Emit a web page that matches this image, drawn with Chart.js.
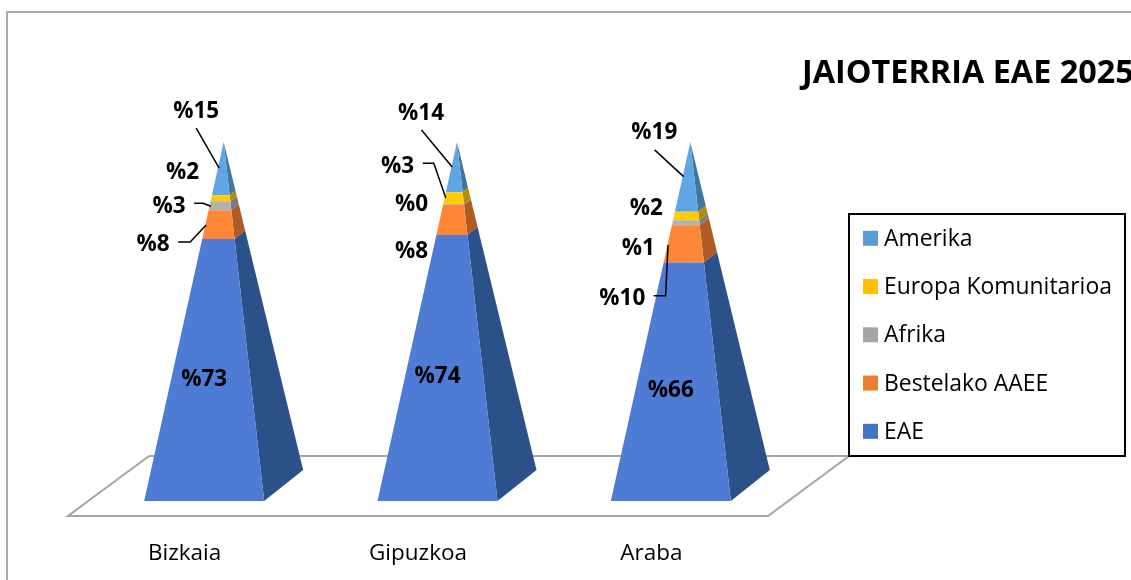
<!DOCTYPE html>
<html>
<head>
<meta charset="utf-8">
<title>JAIOTERRIA EAE 2025</title>
<script src="https://cdn.jsdelivr.net/npm/chart.js@4"></script>
<style>
  body { margin: 0; background: #fff; }
  #wrap { width: 1131px; height: 580px; }
</style>
</head>
<body>
<div id="wrap"><canvas id="chart"></canvas></div>
<script>
const chartTitle = "JAIOTERRIA EAE 2025";
const categories = ["Bizkaia", "Gipuzkoa", "Araba"];

// percentages, bottom of the pyramid first
const eae = [73, 74.1, 66.4];
const bestelako = [8, 8.4, 10.4];
const afrika = [2.5, 0.2, 1.4];
const europa = [1.7, 3.3, 2.4];
const amerika = [14.8, 14, 19.4];

const seriesNames = ["EAE", "Bestelako AAEE", "Afrika", "Europa Komunitarioa", "Amerika"];
const legendColors = ["#4472C4", "#ED7D31", "#A5A5A5", "#FFC000", "#5B9BD5"];
const frontColors = ["#4E7CD5", "#FF8636", "#B2B2B2", "#FFCC08", "#60A6E5"];
const sideColors = ["#2C5189", "#AD5C24", "#7C7C7C", "#B38E05", "#41779F"];

// depth of the fake 3D box, in pixels
const depthX = 39;
const depthY = 31;
const floorX = 81;
const floorY = 60;

// where each label sits, relative to the middle of its slice: [series][category]
// line = optional leader line points, same origin
const labelSpots = [
  [{ dx: 0, dy: 8 }, { dx: 0, dy: 7 }, { dx: 0, dy: 7 }],
  [
    { dx: -51, dy: 18.5, line: [[-26, 17.5], [-14, 17.5], [2, 0.5]] },
    { dx: -26, dy: 30 },
    { dx: -48.5, dy: 53, line: [[-17.2, 51.7], [-5.2, 51.7], [-2.8, 1]] },
  ],
  [
    { dx: -35, dy: -1.5, line: [[-10, -2.5], [-1, -2.5], [6.7, 0.5]] },
    { dx: -26, dy: -1.5 },
    { dx: -32.5, dy: 24 },
  ],
  [
    { dx: -21.5, dy: -28 },
    { dx: -40, dy: -33.2, line: [[-14.7, -34.9], [-3.7, -34.9], [8.3, -0.2]] },
    { dx: -24.5, dy: -9.3 },
  ],
  [
    { dx: -8, dy: -58.5, line: [[-8, -40.5], [15, -0.5]] },
    { dx: -16.5, dy: -55.5, line: [[-16, -37.2], [14.7, -0.2]] },
    { dx: -16.5, dy: -46, line: [[-16.2, -26.9], [12.8, -0.2]] },
  ],
];

const allSeries = [eae, bestelako, afrika, europa, amerika];

function lerp(p, apex, t) {
  return [p[0] + (apex[0] - p[0]) * t, p[1] + (apex[1] - p[1]) * t];
}

function fillShape(ctx, points, color) {
  ctx.beginPath();
  points.forEach((p, i) => (i ? ctx.lineTo(p[0], p[1]) : ctx.moveTo(p[0], p[1])));
  ctx.closePath();
  ctx.fillStyle = color;
  ctx.fill();
}

// paper frame and the floor of the 3D box
const backdropPlugin = {
  id: "backdrop",
  beforeDatasetsDraw(chart) {
    const { ctx, chartArea } = chart;
    const y0 = chart.scales.y.getPixelForValue(0) + floorY / 4;
    ctx.save();
    ctx.strokeStyle = "#ABABAB";
    ctx.lineWidth = 2;
    ctx.beginPath();
    ctx.moveTo(7, 580);
    ctx.lineTo(7, 12);
    ctx.lineTo(1131, 12);
    ctx.stroke();
    ctx.strokeStyle = "#A5A5A5";
    ctx.beginPath();
    ctx.moveTo(chartArea.left + floorX, y0 - floorY);
    ctx.lineTo(chartArea.left, y0);
    ctx.lineTo(chartArea.right, y0);
    ctx.lineTo(chartArea.right + floorX, y0 - floorY);
    ctx.lineTo(chartArea.left + floorX, y0 - floorY);
    ctx.stroke();
    ctx.restore();
  },
};

// replaces the flat bars by slices of a pyramid, the bar elements still give the positions
const pyramidPlugin = {
  id: "pyramid",
  beforeDatasetDraw(chart, args) {
    const { ctx } = chart;
    const yScale = chart.scales.y;
    const bottom = yScale.getPixelForValue(0);
    const top = yScale.getPixelForValue(100);
    args.meta.data.forEach((bar) => {
      const x = bar.x + floorX / 4 - 0.75;
      const half = bar.width / 2;
      const apex = [x + depthX / 2, top];
      const left = [x - half, bottom];
      const right = [x + half, bottom];
      const back = [x + half + depthX, bottom - depthY];
      const t0 = (bottom - bar.base) / (bottom - top);
      const t1 = (bottom - bar.y) / (bottom - top);
      fillShape(
        ctx,
        [lerp(right, apex, t0), lerp(back, apex, t0), lerp(back, apex, t1), lerp(right, apex, t1)],
        sideColors[args.index]
      );
      fillShape(
        ctx,
        [lerp(left, apex, t0), lerp(right, apex, t0), lerp(right, apex, t1), lerp(left, apex, t1)],
        frontColors[args.index]
      );
    });
    return false;
  },
};

// title, percentage labels and the boxed legend
const textPlugin = {
  id: "texts",
  afterDatasetsDraw(chart) {
    const { ctx } = chart;
    ctx.save();
    ctx.textBaseline = "middle";

    chart.data.datasets.forEach((ds, s) => {
      chart.getDatasetMeta(s).data.forEach((bar, c) => {
        const spot = labelSpots[s][c];
        const ax = bar.x + floorX / 4 - 0.75;
        const ay = (bar.y + bar.base) / 2;
        if (spot.line) {
          ctx.strokeStyle = "#000";
          ctx.lineWidth = 1.5;
          ctx.beginPath();
          spot.line.forEach((p, i) =>
            i ? ctx.lineTo(ax + p[0], ay + p[1]) : ctx.moveTo(ax + p[0], ay + p[1])
          );
          ctx.stroke();
        }
        ctx.fillStyle = "#000";
        ctx.font = "bold 22.5px 'Open Sans'";
        ctx.textAlign = "center";
        ctx.fillText("%" + Math.round(ds.data[c]), ax + spot.dx, ay + spot.dy + 2);
      });
    });

    ctx.textAlign = "left";
    ctx.fillStyle = "#000";
    ctx.font = "bold 32.4px 'Open Sans'";
    ctx.fillText(chartTitle, 802, 74);

    ctx.fillStyle = "#fff";
    ctx.fillRect(849, 214, 276, 242);
    ctx.strokeStyle = "#000";
    ctx.lineWidth = 2;
    ctx.strokeRect(849, 214, 276, 242);
    ctx.font = "22.9px 'Open Sans'";
    [4, 3, 2, 1, 0].forEach((s, row) => {
      const yy = 238.3 + row * 48.25;
      ctx.fillStyle = legendColors[s];
      ctx.fillRect(863, yy - 7.5, 15, 15);
      ctx.fillStyle = "#000";
      ctx.fillText(chart.data.datasets[s].label, 884, yy + 1);
    });
    ctx.restore();
  },
};

new Chart(document.querySelector("#chart"), {
  type: "bar",
  data: {
    labels: categories,
    datasets: seriesNames.map((name, s) => ({
      label: name,
      data: allSeries[s],
      backgroundColor: legendColors[s],
      barThickness: 120,
    })),
  },
  options: {
    responsive: true,
    maintainAspectRatio: false,
    animation: false,
    layout: { padding: { left: 68, right: 363, top: 142, bottom: 0 } },
    plugins: {
      legend: { display: false },
      title: { display: false },
      tooltip: { enabled: false },
    },
    scales: {
      x: {
        stacked: true,
        grid: { display: false, drawTicks: false },
        border: { display: false },
        afterFit(axis) {
          axis.height = 79;
        },
        ticks: {
          padding: 39,
          maxRotation: 0,
          color: "#000",
          font: { family: "'Open Sans'", size: 22.5 },
        },
      },
      y: { stacked: true, display: false, min: 0, max: 100 },
    },
  },
  plugins: [backdropPlugin, pyramidPlugin, textPlugin],
});
</script>
</body>
</html>
